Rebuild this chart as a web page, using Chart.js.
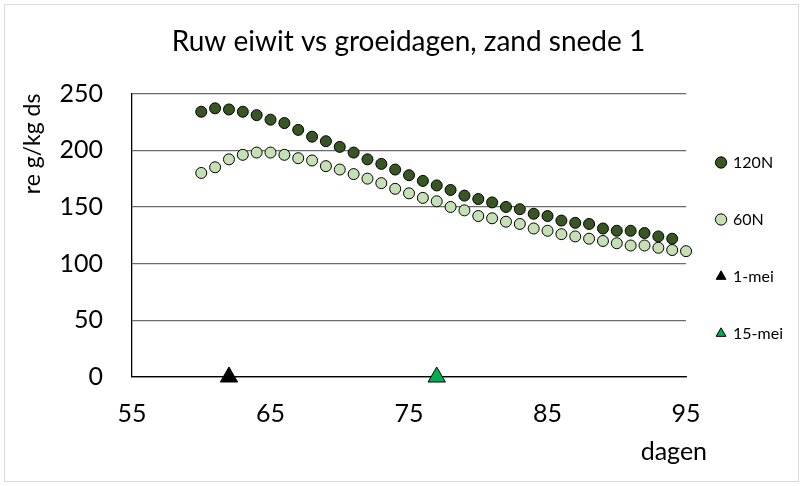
<!DOCTYPE html>
<html>
<head>
<meta charset="utf-8">
<title>Ruw eiwit vs groeidagen</title>
<script src="https://cdn.jsdelivr.net/npm/chart.js@4.4.1/dist/chart.umd.min.js"></script>
<style>
  html, body { margin: 0; padding: 0; background: #fff; }
  #wrap { width: 803px; height: 486px; position: relative; }
</style>
</head>
<body>
<div id="wrap"><canvas id="chart"></canvas></div>
<script>
// groeidagen en ruw eiwit (g/kg ds)
const dagen120N = [60, 61, 62, 63, 64, 65, 66, 67, 68, 69, 70, 71, 72, 73, 74, 75, 76, 77,
                   78, 79, 80, 81, 82, 83, 84, 85, 86, 87, 88, 89, 90, 91, 92, 93, 94];
const re120N = [234, 237, 236, 234, 231, 227, 224, 218, 212, 208, 203, 198, 192, 188, 183, 178, 173, 169,
                165, 160, 157, 154, 150, 148, 144, 142, 138, 136, 135, 131, 129, 129, 127, 124, 122];

const dagen60N = [60, 61, 62, 63, 64, 65, 66, 67, 68, 69, 70, 71, 72, 73, 74, 75, 76, 77,
                  78, 79, 80, 81, 82, 83, 84, 85, 86, 87, 88, 89, 90, 91, 92, 93, 94, 95];
const re60N = [180, 185, 192, 196, 198, 198, 196, 193, 191, 186, 183, 179, 175, 171, 166, 162, 158, 155,
               150, 147, 142, 140, 137, 135, 131, 129, 126, 124, 122, 120, 118, 116, 116, 114, 112, 111];

// datums als groeidagen
const datumLabels = ['1-mei', '15-mei'];
const datumDagen = [62, 77];
const datumWaarde = [0, 0];

// as-instellingen
const xTicks = [55, 65, 75, 85, 95];
const yTicks = [0, 50, 100, 150, 200, 250];

const FONT = 'Lato, "Liberation Sans", sans-serif';

function toPoints(xs, ys) {
    return xs.map((x, i) => ({ x: x, y: ys[i] }));
}

// rand om het hele diagram
const frameRand = {
    id: 'frameRand',
    afterDraw(chart) {
        const ctx = chart.ctx;
        ctx.save();
        ctx.strokeStyle = '#d9d9d9';
        ctx.lineWidth = 1;
        ctx.strokeRect(4.5, 4.5, chart.width - 9, chart.height - 9);
        ctx.restore();
    }
};

// as-titel "dagen" rechts onder de x-as
const xAsTitel = {
    id: 'xAsTitel',
    afterDraw(chart) {
        const x = chart.scales.x;
        const ctx = chart.ctx;
        ctx.save();
        ctx.font = '25px ' + FONT;
        ctx.fillStyle = '#000';
        ctx.textAlign = 'right';
        ctx.textBaseline = 'middle';
        ctx.fillText('dagen', x.right + 21, x.top + 75);
        ctx.restore();
    }
};

// legenda iets naar links schuiven
const legendaSchuif = {
    id: 'legendaSchuif',
    afterLayout(chart) {
        const lg = chart.legend;
        const dx = 10;
        lg.left -= dx;
        lg.right -= dx;
    }
};

document.addEventListener('DOMContentLoaded', function() {
    const ctx = document.getElementById('chart').getContext('2d');

    const chartData = {
        datasets: [{
            label: '120N',
            data: toPoints(dagen120N, re120N),
            backgroundColor: '#375623',
            borderColor: '#000',
            borderWidth: 1,
            pointRadius: 5.5,
            pointStyle: 'circle'
        }, {
            label: '60N',
            data: toPoints(dagen60N, re60N),
            backgroundColor: '#c5e0b4',
            borderColor: '#000',
            borderWidth: 1,
            pointRadius: 5.5,
            pointStyle: 'circle'
        }, {
            label: datumLabels[0],
            data: [{ x: datumDagen[0], y: datumWaarde[0] }],
            backgroundColor: '#000',
            borderColor: '#000',
            borderWidth: 1,
            pointRadius: 10,
            pointStyle: 'triangle'
        }, {
            label: datumLabels[1],
            data: [{ x: datumDagen[1], y: datumWaarde[1] }],
            backgroundColor: '#00b050',
            borderColor: '#000',
            borderWidth: 1,
            pointRadius: 10,
            pointStyle: 'triangle'
        }]
    };

    const chartOptions = {
        responsive: true,
        maintainAspectRatio: false,
        animation: false,
        clip: false,
        layout: {
            padding: { top: 10, left: 14, right: 0, bottom: 0 }
        },
        plugins: {
            title: {
                display: true,
                text: 'Ruw eiwit vs groeidagen, zand snede 1',
                color: '#000',
                font: { family: FONT, size: 28, weight: 'normal' },
                padding: { top: 15, bottom: 35 }
            },
            legend: {
                position: 'right',
                labels: {
                    usePointStyle: true,
                    boxWidth: 8,
                    boxHeight: 8,
                    padding: 41,
                    color: '#000',
                    font: { family: FONT, size: 16 }
                }
            },
            tooltip: { enabled: false }
        },
        scales: {
            x: {
                type: 'linear',
                min: 55,
                max: 95,
                afterBuildTicks: function(scale) {
                    scale.ticks = xTicks.map(v => ({ value: v }));
                },
                afterFit: function(scale) { scale.height = 109; },
                grid: { display: false, drawTicks: false },
                border: { display: true, color: '#000', width: 1.3 },
                ticks: {
                    padding: 22,
                    color: '#000',
                    font: { family: FONT, size: 25 }
                }
            },
            y: {
                type: 'linear',
                min: 0,
                max: 250,
                afterBuildTicks: function(scale) {
                    scale.ticks = yTicks.map(v => ({ value: v }));
                },
                afterFit: function(scale) { scale.width = 118; },
                grid: {
                    drawTicks: false,
                    color: c => c.tick && c.tick.value === 0 ? '#000' : '#6b6b6b',
                    lineWidth: 1.3
                },
                border: { display: true, color: '#000', width: 1.3 },
                title: {
                    display: true,
                    text: 're g/kg ds',
                    align: 'end',
                    color: '#000',
                    font: { family: FONT, size: 23 },
                    padding: { top: 5, bottom: 0 }
                },
                ticks: {
                    padding: 29,
                    color: '#000',
                    font: { family: FONT, size: 25 }
                }
            }
        }
    };

    new Chart(ctx, {
        type: 'scatter',
        data: chartData,
        options: chartOptions,
        plugins: [frameRand, xAsTitel, legendaSchuif]
    });
});
</script>
</body>
</html>
